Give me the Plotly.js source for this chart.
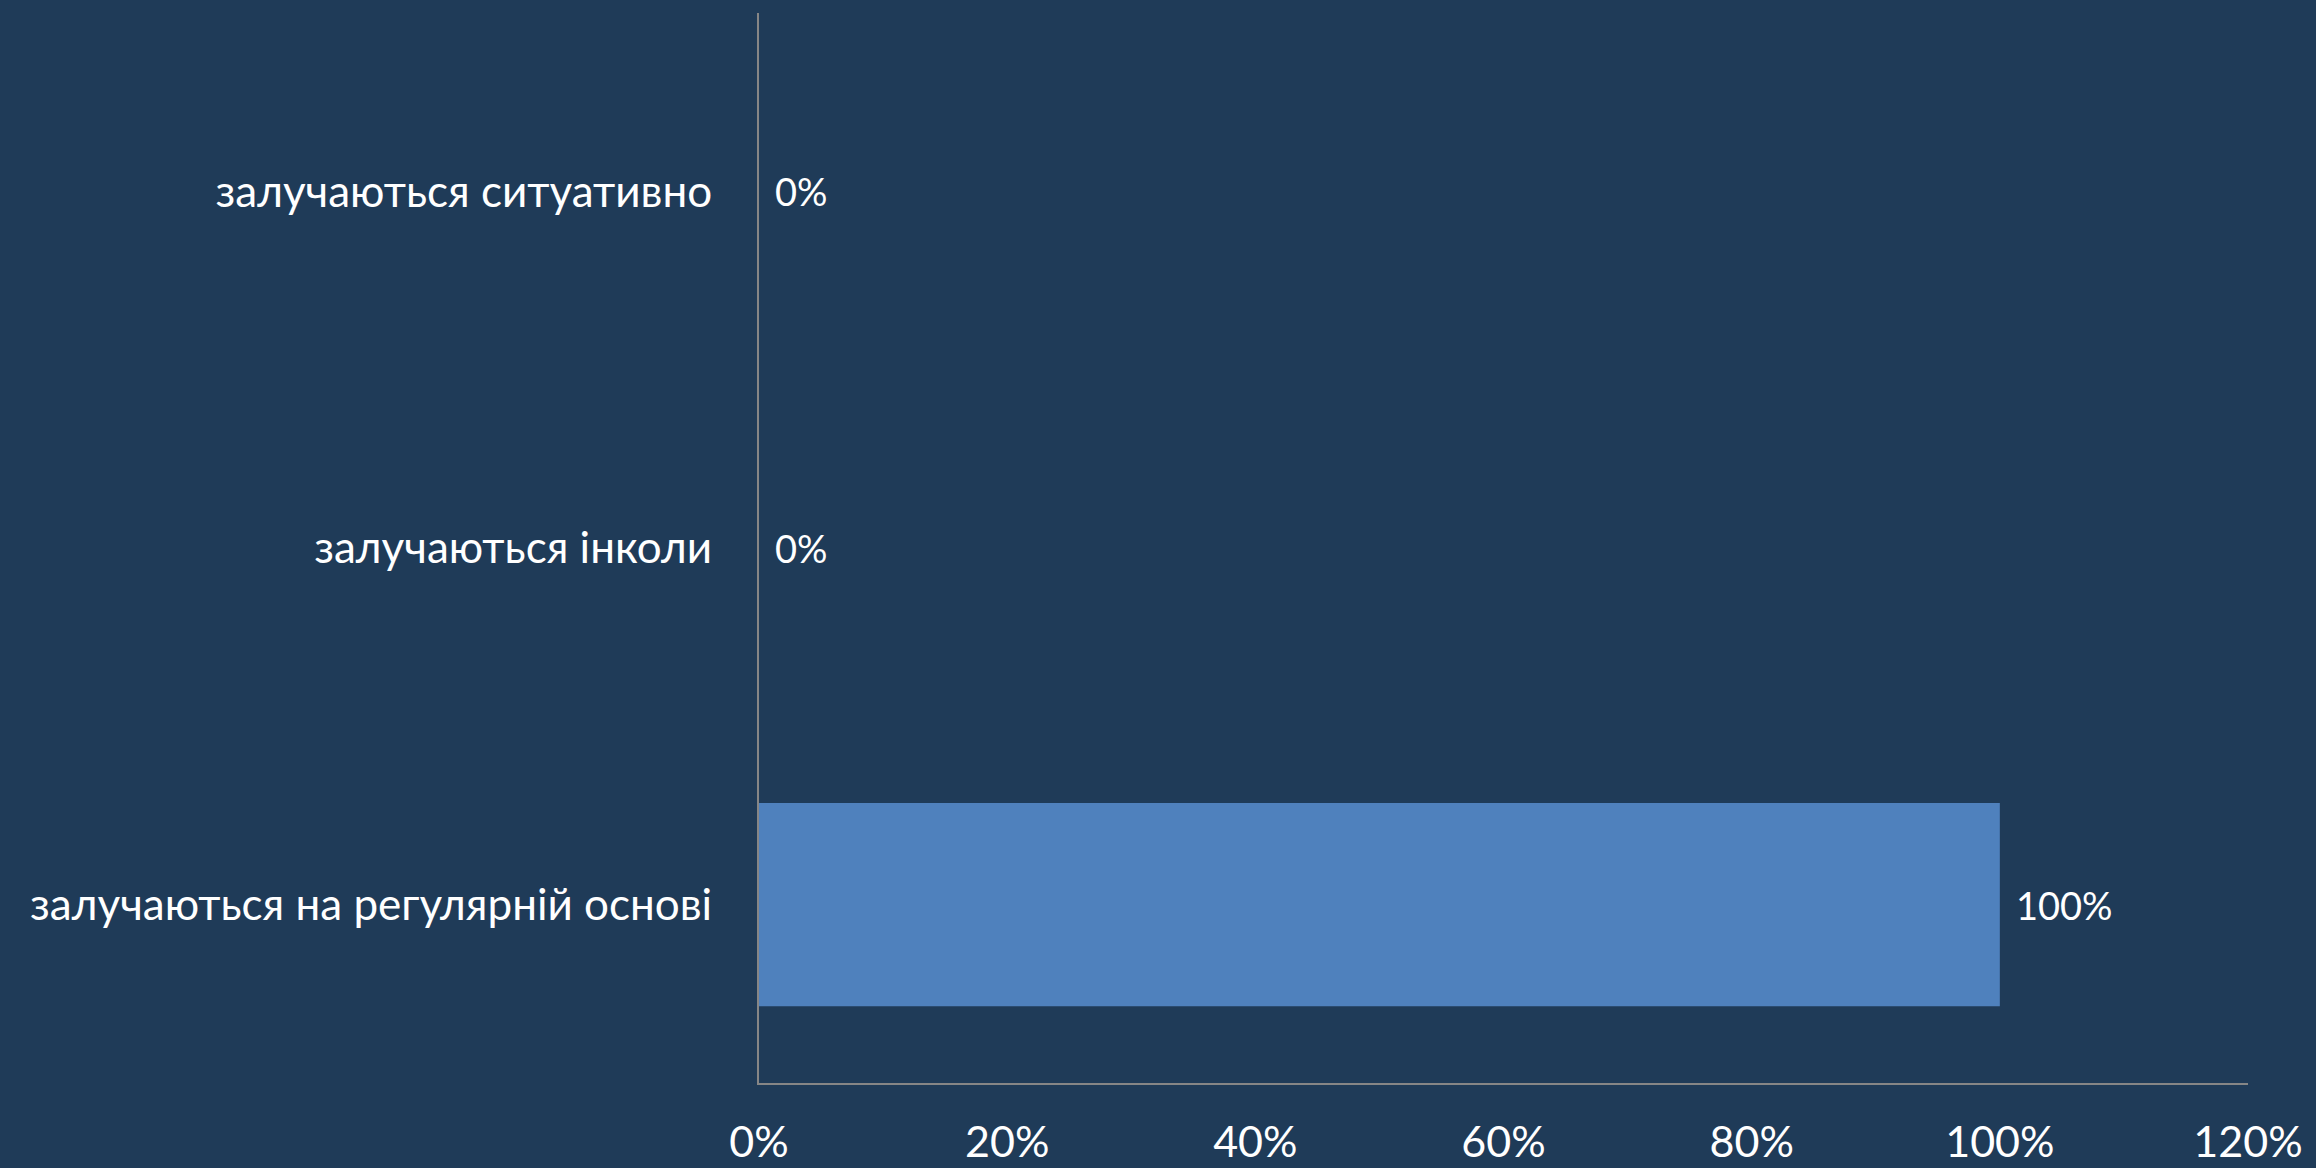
<!DOCTYPE html>
<html>
<head>
<meta charset="utf-8">
<script src="https://cdn.plot.ly/plotly-3.0.1.min.js"></script>
<style>
html,body{margin:0;padding:0;background:#1f3b58;}
#chart{width:2316px;height:1168px;}
</style>
</head>
<body>
<div id="chart"></div>
<script>
const categories = ["залучаються на регулярній основі", "залучаються інколи", "залучаються ситуативно"];
const values = [1.0, 0.0, 0.0];
const valueLabels = ["100%", "0%", "0%"];
const xTickValues = [0, 0.2, 0.4, 0.6, 0.8, 1.0, 1.2];
const xTickLabels = ["0%", "20%", "40%", "60%", "80%", "100%", "120%"];

const font = "Lato, 'Noto Sans', sans-serif";

const trace = {
  type: "bar",
  orientation: "h",
  y: categories,
  x: values,
  textposition: "none",
  marker: {color: "#4f81bd", line: {width: 0}},
  hoverinfo: "skip"
};

const annotations = categories.map((c, i) => ({
  x: values[i],
  y: c,
  xref: "x",
  yref: "y",
  text: valueLabels[i],
  showarrow: false,
  xanchor: "left",
  yanchor: "middle",
  xshift: 14,
  font: {family: font, size: 38, color: "#ffffff"}
}));

const layout = {
  width: 2316,
  height: 1168,
  paper_bgcolor: "#1f3b58",
  plot_bgcolor: "#1f3b58",
  margin: {l: 759, r: 68, t: 13, b: 85, pad: 0},
  bargap: 0.43,
  showlegend: false,
  font: {family: font, color: "#ffffff"},
  annotations: annotations,
  xaxis: {
    range: [0, 1.2],
    tickvals: xTickValues,
    ticktext: xTickLabels,
    showgrid: false,
    zeroline: false,
    showline: true,
    linecolor: "#868686",
    linewidth: 2,
    ticks: "outside",
    ticklen: 20,
    tickcolor: "rgba(0,0,0,0)",
    tickfont: {family: font, size: 43, color: "#ffffff"},
    fixedrange: true
  },
  yaxis: {
    categoryorder: "array",
    categoryarray: categories,
    showgrid: false,
    zeroline: false,
    showline: true,
    linecolor: "#868686",
    linewidth: 2,
    ticks: "outside",
    ticklen: 36,
    tickcolor: "rgba(0,0,0,0)",
    tickfont: {family: font, size: 44, color: "#ffffff"},
    fixedrange: true
  }
};

Plotly.newPlot("chart", [trace], layout, {displayModeBar: false, staticPlot: true});
</script>
</body>
</html>
